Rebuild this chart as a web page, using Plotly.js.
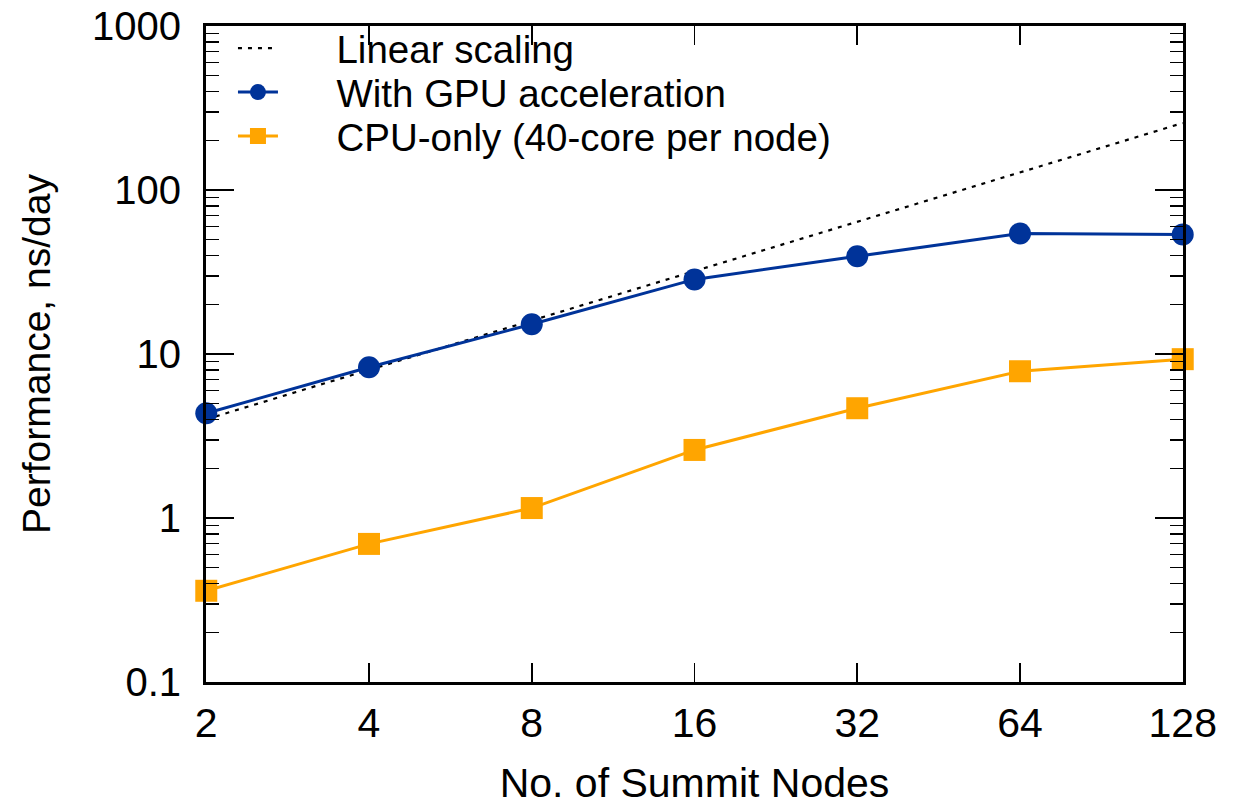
<!DOCTYPE html>
<html>
<head>
<meta charset="utf-8">
<script src="https://cdn.plot.ly/plotly-3.0.1.min.js"></script>
<style>html,body{margin:0;padding:0;background:#fff;}#chart{width:1243px;height:807px;}</style>
</head>
<body>
<div id="chart"></div>
<script>
const nodes = [2, 4, 8, 16, 32, 64, 128];
const linearScaling = [4, 8, 16, 32, 64, 128, 256];
const gpuPerf = [4.35, 8.3, 15.2, 28.5, 39.4, 54.3, 53.6];
const cpuPerf = [0.36, 0.695, 1.15, 2.6, 4.67, 7.85, 9.3];
const seriesNames = ['Linear scaling', 'With GPU acceleration', 'CPU-only (40-core per node)'];
const xTickLabels = ['2', '4', '8', '16', '32', '64', '128'];
const yTickVals = [0.1, 1, 10, 100, 1000];
const yTickLabels = ['0.1', '1', '10', '100', '1000'];

const yMinor = [];
[0.1, 1, 10, 100].forEach(d => { for (let k = 2; k <= 9; k++) yMinor.push(d * k); });

const font = 'Liberation Sans, Arial, Helvetica, sans-serif';
const pad = '\u00A0\u00A0\u00A0\u00A0\u00A0';

const traces = [
  {x: nodes, y: linearScaling, name: pad + seriesNames[0], mode: 'lines', legend: 'legend',
   line: {color: '#000', width: 2.2, dash: '4px,6px'}},
  {x: nodes, y: gpuPerf, name: pad + seriesNames[1], mode: 'lines+markers', legend: 'legend2',
   line: {color: '#003399', width: 3}, marker: {symbol: 'circle', size: 22, color: '#003399'}, cliponaxis: false},
  {x: nodes, y: cpuPerf, name: pad + seriesNames[2], mode: 'lines+markers', legend: 'legend3',
   line: {color: '#FFA500', width: 3}, marker: {symbol: 'square', size: 22, color: '#FFA500'}, cliponaxis: false}
];

const legFont = {family: font, size: 38.5, color: '#000'};
const legBase = {xanchor: 'left', yanchor: 'middle', bgcolor: 'rgba(0,0,0,0)', font: legFont, itemwidth: 40, x: 0.0276};

const layout = {
  width: 1243, height: 807,
  margin: {l: 206, r: 60, t: 26, b: 125},
  paper_bgcolor: '#fff', plot_bgcolor: '#fff',
  font: {family: font, size: 40, color: '#000'},
  showlegend: true,
  legend: Object.assign({}, legBase, {y: 0.9657}),
  legend2: Object.assign({}, legBase, {y: 0.8986}),
  legend3: Object.assign({}, legBase, {y: 0.8316}),
  xaxis: {
    type: 'log', range: [Math.log10(2) - 0.0005, Math.log10(128) + 0.0005],
    tickmode: 'array', tickvals: nodes, ticktext: xTickLabels,
    ticks: 'inside', ticklen: 19, tickwidth: 1.5, tickcolor: '#000',
    showline: true, linewidth: 3, linecolor: '#000', mirror: 'allticks',
    showgrid: false, zeroline: false,
    tickfont: {family: font, size: 41}, ticklabelstandoff: 3,
    title: {text: 'No. of Summit Nodes', font: {family: font, size: 41}, standoff: 24}
  },
  yaxis: {
    type: 'log', range: [-1, 3],
    tickmode: 'array', tickvals: yTickVals, ticktext: yTickLabels,
    ticks: 'inside', ticklen: 28, tickwidth: 1.5, tickcolor: '#000',
    showline: true, linewidth: 3, linecolor: '#000', mirror: 'allticks',
    showgrid: false, zeroline: false,
    tickfont: {family: font, size: 40}, ticklabelstandoff: 14,
    minor: {tickmode: 'array', tickvals: yMinor, ticks: 'inside', ticklen: 13, tickwidth: 1.5, tickcolor: '#000', showgrid: false},
    title: {text: 'Performance, ns/day', font: {family: font, size: 39}, standoff: 30}
  }
};

Plotly.newPlot('chart', traces, layout, {displayModeBar: false, staticPlot: true});
</script>
</body>
</html>
